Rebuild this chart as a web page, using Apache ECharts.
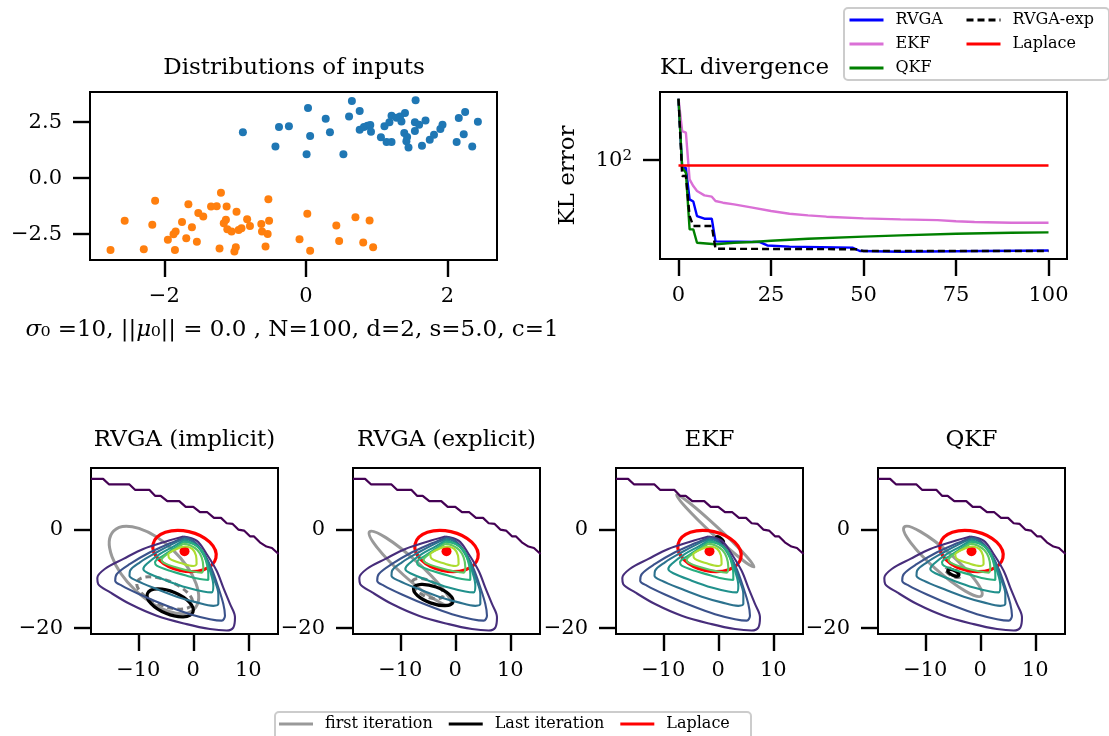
<!DOCTYPE html>
<html lang="en">
<head>
<meta charset="UTF-8">
<title>RVGA vs EKF vs QKF</title>
<script src="https://cdn.jsdelivr.net/npm/echarts@6.0.0/dist/echarts.min.js"></script>
<style>
    html, body { margin: 0; padding: 0; background: #fff; }
    #chart { width: 1109px; height: 736px; }
</style>
</head>
<body>
<div id="chart"></div>
<script>
// ---------- data ----------
// inputs, class 1 (blue) and class 2 (orange)
const class1Points = [
    [-0.89, 2.04], [-0.43, 1.41], [-0.38, 2.28], [-0.24, 2.31], [0.03, 3.13], [0.06, 1.88],
    [0.01, 1.07], [0.28, 2.65], [0.34, 2.05], [0.53, 1.06], [0.61, 2.75], [0.65, 3.44],
    [0.76, 2.99], [0.76, 2.16], [0.82, 2.28], [0.87, 2.34], [0.91, 2.37], [0.92, 2.07],
    [1.06, 1.82], [1.11, 2.31], [1.18, 2.49], [1.21, 2.78], [1.14, 1.61], [1.21, 1.61],
    [1.28, 2.69], [1.33, 2.75], [1.35, 2.53], [1.40, 2.90], [1.39, 2.01], [1.43, 1.83],
    [1.42, 1.64], [1.45, 1.37], [1.55, 3.47], [1.54, 2.49], [1.54, 2.10], [1.60, 2.38],
    [1.64, 1.44], [1.69, 2.57], [1.75, 1.71], [1.81, 1.93], [1.90, 2.19], [1.93, 2.38],
    [2.13, 1.61], [2.16, 2.68], [2.25, 2.95], [2.23, 1.96], [2.35, 1.41], [2.43, 2.51]
];
const class2Points = [
    [-2.76, -3.20], [-2.56, -1.90], [-2.29, -3.17], [-2.17, -2.08], [-2.13, -1.01], [-1.95, -2.75],
    [-1.87, -2.50], [-1.84, -2.38], [-1.85, -3.20], [-1.75, -1.96], [-1.69, -2.68], [-1.66, -1.16],
    [-1.61, -2.19], [-1.54, -2.84], [-1.52, -1.56], [-1.45, -1.71], [-1.34, -1.26], [-1.26, -1.25],
    [-1.22, -3.14], [-1.20, -0.65], [-1.16, -2.01], [-1.12, -1.26], [-1.13, -1.86], [-1.11, -2.28],
    [-1.05, -2.38], [-1.01, -3.27], [-0.99, -3.08], [-0.98, -1.50], [-0.95, -2.31], [-0.91, -2.23],
    [-0.83, -1.83], [-0.79, -2.13], [-0.63, -2.05], [-0.62, -2.38], [-0.57, -3.05], [-0.54, -2.49],
    [-0.53, -0.94], [-0.52, -1.90], [-0.09, -2.72], [0.02, -1.59], [0.06, -3.24], [0.43, -2.11],
    [0.47, -2.80], [0.70, -1.74], [0.81, -2.87], [0.90, -1.89], [0.95, -3.08]
];
const scatterXTicks = [-2, 0, 2];
const scatterYTicks = [-2.5, 0, 2.5];

// KL error per iteration, [iteration, KL]
const klRVGA = [[0, 202.6], [1, 91.5], [2, 91.5], [3, 63.6], [4, 62.1], [5, 52.5], [7, 50.9], [9, 50.9],
    [10, 39.2], [22, 38.9], [24, 37.4], [30, 36.9], [47, 36.5], [49, 35.1], [60, 34.8], [75, 35.0], [100, 35.3]];
const klEKF = [[0, 202.6], [1, 139.6], [2, 137.1], [3, 80.1], [4, 74.1], [5, 70.0], [7, 66.6], [9, 65.6],
    [10, 62.4], [12, 61.2], [15, 60.0], [20, 57.8], [25, 55.6], [30, 53.9], [35, 52.9], [40, 52.1],
    [50, 51.1], [60, 50.5], [70, 50.1], [75, 49.4], [80, 49.0], [90, 48.6], [100, 48.6]];
const klQKF = [[0, 202.6], [1, 91.5], [2, 86.4], [3, 45.0], [4, 45.0], [5, 38.6], [10, 37.9], [15, 38.6],
    [20, 38.9], [25, 39.5], [35, 40.4], [50, 41.4], [60, 42.0], [75, 42.8], [90, 43.3], [100, 43.5]];
const klRVGAexp = [[0, 202.6], [1, 83.2], [2, 83.2], [3, 52.5], [4, 46.8], [9, 46.8], [10, 36.0],
    [48, 35.8], [50, 35.1], [100, 35.1]];
const klLaplace = [[0, 94.0], [100, 94.0]];
const klXTicks = [0, 25, 50, 75, 100];
const klYTicks = [100];

// true posterior contours (same in every bottom panel)
const contourStair = [[-18.6, 10.2], [-16.4, 10.2], [-15.3, 9.07], [-11.6, 9.07], [-10.6, 7.99], [-8.0, 7.99],
    [-6.96, 6.77], [-5.93, 6.77], [-4.73, 5.68], [-2.55, 5.68], [-1.38, 4.54], [0, 4.54], [1.21, 3.45],
    [2.55, 3.45], [3.76, 2.31], [5.04, 2.31], [6.07, 1.22], [7.16, 1.08], [8.18, -0.06], [9.22, -0.26],
    [10.3, -1.42], [11.0, -1.42], [12.1, -2.64], [13.3, -3.5], [14.3, -3.8], [15.5, -5.0]];
const contour1 = [[-1.82, -1.48], [-4.84, -2.43], [-9.09, -3.98], [-12.7, -6.0], [-16.1, -8.04], [-17.45, -9.87],
    [-17.3, -11.08], [-15.1, -12.78], [-11.5, -15.14], [-6.65, -17.5], [-1.2, -19.2], [3.03, -20.2], [6.07, -20.5],
    [7.27, -19.9], [7.58, -17.8], [6.67, -15.1], [5.45, -11.8], [4.24, -8.4], [2.42, -5.0], [0.6, -2.3], [-1.82, -1.48]];
const contour2 = [[-1.5, -1.6], [-4.24, -2.84], [-7.87, -4.66], [-11.5, -7.03], [-13.9, -9.05], [-14.2, -10.4],
    [-13.0, -11.4], [-9.7, -13.2], [-4.84, -15.5], [-0.6, -17.2], [3.03, -18.2], [5.16, -18.5], [5.76, -17.5],
    [5.45, -15.1], [4.55, -11.8], [3.34, -8.04], [1.82, -4.66], [0, -2.3], [-1.5, -1.6]];
const contour3 = [[-1.6, -1.9], [-4.0, -3.1], [-6.65, -4.66], [-9.7, -6.69], [-11.5, -8.4], [-11.6, -9.4],
    [-10.3, -10.4], [-6.65, -12.1], [-3.0, -13.65], [0.6, -14.8], [3.64, -15.5], [4.55, -15.1], [4.55, -13.1],
    [3.64, -9.7], [2.73, -6.69], [1.52, -4.3], [-0.2, -2.43], [-1.6, -1.9]];
const contour4 = [[-1.7, -2.2], [-3.64, -3.5], [-6.05, -5.0], [-8.48, -7.03], [-9.09, -8.04], [-8.18, -8.9],
    [-4.84, -10.4], [-1.2, -11.8], [1.82, -12.6], [3.34, -12.78], [3.64, -11.4], [3.03, -8.4], [2.12, -5.7],
    [0.91, -3.65], [-0.6, -2.6], [-1.7, -2.2]];
const contour5 = [[-1.7, -2.5], [-3.33, -3.78], [-5.45, -5.33], [-6.96, -6.69], [-6.65, -7.36], [-4.24, -8.4],
    [-1.2, -9.4], [1.21, -10.07], [2.73, -10.27], [2.73, -9.05], [2.3, -6.35], [1.52, -4.3], [0, -2.97], [-1.7, -2.5]];
const contour6 = [[-1.8, -2.9], [-3.15, -3.9], [-4.96, -5.2], [-5.76, -6.2], [-5.15, -6.9], [-2.73, -7.84],
    [-0.3, -8.5], [1.52, -8.78], [1.82, -7.7], [1.52, -5.7], [0.73, -4.2], [-0.6, -3.24], [-1.8, -2.9]];
const contour7 = [[-3.0, -3.98], [-4.55, -5.13], [-4.24, -6.0], [-2.12, -6.9], [0, -7.43], [0.6, -7.03],
    [0.49, -5.33], [-0.2, -3.98], [-1.5, -3.5], [-3.0, -3.98]];

// Gaussian ellipses per panel: [cx, cy, semi-major, semi-minor, tilt in degrees]
const panelTitles = ['RVGA (implicit)', 'RVGA (explicit)', 'EKF', 'QKF'];
const firstEllipses = [[-7.15, -8.24, 10.2, 5.0, 44], [-8.23, -7.9, 9.9, 1.7, 42], [-0.55, -0.32, 9.6, 0.75, 43], [-6.8, -6.5, 9.4, 1.9, 41.5]];
const midEllipses = [[[-5.2, -12.9, 5.4, 2.3, 22]], [[-5.0, -12.0, 3.1, 1.45, 25]], [], [[-4.9, -8.8, 1.5, 0.65, 25]]];
const lastEllipses = [[-4.2, -14.9, 4.47, 2.05, 22.4], [-4.0, -13.3, 3.8, 1.53, 20], [0.3, -2.1, 0.8, 0.3, 40], [-4.9, -8.8, 1.1, 0.45, 25]];
const laplaceEllipse = [-1.6, -4.4, 5.85, 3.62, 12.6];
const laplaceMean = [-1.6, -4.45];
const panelXTicks = [-10, 0, 10];
const panelYTicks = [-20, 0];

// ---------- chart ----------
const SERIF = 'DejaVu Serif';
const chart = echarts.init(document.getElementById('chart'));

const contourColors = ['#472d7b', '#3b528b', '#2c728e', '#21918c', '#28ae80', '#5ec962', '#addc30'];
const contours = [contour1, contour2, contour3, contour4, contour5, contour6, contour7];

function num(v, d) {
    return (v < 0 ? '\u2212' : '') + Math.abs(v).toFixed(d);
}

// axis with ticks only at the given values, frame comes from the grid border
function axis(gridIndex, min, max, ticks, fmt, isX, extra) {
    return Object.assign({
        type: 'value',
        gridIndex: gridIndex,
        min: min,
        max: max,
        axisLine: { show: false, onZero: false },
        axisTick: { length: 17, lineStyle: { color: '#000', width: 2.4 }, customValues: ticks },
        axisLabel: {
            color: '#000', fontSize: 21, fontFamily: SERIF, margin: isX ? 26 : 28,
            customValues: ticks, formatter: fmt
        },
        splitLine: { show: false }
    }, extra || {});
}

function ellipseRenderer(color, width, dash) {
    return function (params, api) {
        const c = api.coord([api.value(0), api.value(1)]);
        const unit = api.size([1, 0])[0];
        return {
            type: 'ellipse',
            x: c[0],
            y: c[1],
            rotation: -api.value(4) * Math.PI / 180,
            shape: { cx: 0, cy: 0, rx: api.value(2) * unit, ry: api.value(3) * unit },
            style: { fill: 'none', stroke: color, lineWidth: width, lineDash: dash }
        };
    };
}

const grids = [
    { left: 90, top: 92, width: 407, height: 168 },
    { left: 660, top: 92, width: 407, height: 167 }
];
const panelLefts = [91, 353, 616, 878];
panelLefts.forEach(l => grids.push({ left: l, top: 468, width: 187, height: 166 }));
grids.forEach(g => { g.show = true; g.borderColor = '#000'; g.borderWidth = 2; g.backgroundColor = 'transparent'; });

const xAxes = [
    axis(0, -3.05, 2.7, scatterXTicks, v => num(v, 0), true),
    axis(1, -5, 105, klXTicks, v => num(v, 0), true)
];
const yAxes = [
    axis(0, -3.65, 3.84, scatterYTicks, v => num(v, 1), false),
    axis(1, 32, 219, klYTicks, () => '{b|10}{s|2}', false, {
        type: 'log',
        name: 'KL error', nameLocation: 'middle', nameGap: 80, nameRotate: 90,
        nameTextStyle: { color: '#000', fontSize: 23, fontFamily: SERIF }
    })
];
yAxes[1].axisLabel.rich = {
    b: { fontSize: 21, fontFamily: SERIF, color: '#000' },
    s: { fontSize: 15, fontFamily: SERIF, color: '#000', verticalAlign: 'top', padding: [0, 0, 8, 0] }
};
panelLefts.forEach((l, i) => {
    xAxes.push(axis(2 + i, -18.6, 15.4, panelXTicks, v => num(v, 0), true));
    yAxes.push(axis(2 + i, -21.2, 12.4, panelYTicks, v => num(v, 0), false));
});

const series = [
    { type: 'scatter', xAxisIndex: 0, yAxisIndex: 0, data: class1Points, symbolSize: 8, itemStyle: { color: '#1f77b4', opacity: 1 } },
    { type: 'scatter', xAxisIndex: 0, yAxisIndex: 0, data: class2Points, symbolSize: 8, itemStyle: { color: '#ff7f0e', opacity: 1 } }
];

function klLine(name, data, color, dashed) {
    return {
        name: name, type: 'line', xAxisIndex: 1, yAxisIndex: 1, data: data,
        symbol: 'none', color: color,
        lineStyle: { color: color, width: 2.4, type: dashed ? [7, 4] : 'solid' }
    };
}
series.push(klLine('RVGA', klRVGA, '#0000ff'));
series.push(klLine('EKF', klEKF, '#da70d6'));
series.push(klLine('QKF', klQKF, '#008000'));
series.push(klLine('RVGA-exp', klRVGAexp, '#000000', true));
series.push(klLine('Laplace', klLaplace, '#ff0000'));

panelLefts.forEach((l, i) => {
    const ax = 2 + i;
    series.push({
        type: 'line', xAxisIndex: ax, yAxisIndex: ax, data: contourStair, symbol: 'none',
        lineStyle: { color: '#440154', width: 2.2 }, silent: true
    });
    contours.forEach((c, k) => {
        series.push({
            type: 'line', xAxisIndex: ax, yAxisIndex: ax, data: c, symbol: 'none', smooth: 0.35,
            lineStyle: { color: contourColors[k], width: 2.1 }, silent: true
        });
    });
    series.push({
        name: 'first iteration', type: 'custom', xAxisIndex: ax, yAxisIndex: ax,
        data: [firstEllipses[i]], itemStyle: { color: '#999999' },
        renderItem: ellipseRenderer('#999999', 3, null)
    });
    series.push({
        type: 'custom', xAxisIndex: ax, yAxisIndex: ax,
        data: midEllipses[i], itemStyle: { color: '#808080' },
        renderItem: ellipseRenderer('#808080', 3, [6, 4])
    });
    series.push({
        name: 'Last iteration', type: 'custom', xAxisIndex: ax, yAxisIndex: ax,
        data: [lastEllipses[i]], itemStyle: { color: '#000000' },
        renderItem: ellipseRenderer('#000000', 3.2, null)
    });
    series.push({
        name: 'Laplace', type: 'custom', xAxisIndex: ax, yAxisIndex: ax,
        data: [laplaceEllipse], itemStyle: { color: '#ff0000' },
        renderItem: ellipseRenderer('#ff0000', 3.2, null)
    });
    series.push({
        type: 'scatter', xAxisIndex: ax, yAxisIndex: ax, data: [laplaceMean],
        symbolSize: 10, itemStyle: { color: '#ff0000', opacity: 1 }
    });
});

const titleStyle = { color: '#000', fontSize: 23, fontWeight: 'normal', fontFamily: SERIF };
const titles = [
    { text: 'Distributions of inputs', left: 294, top: 57, textAlign: 'center', padding: 0, textStyle: titleStyle },
    { text: 'KL divergence', left: 660, top: 57, padding: 0, textStyle: titleStyle },
    {
        text: '{i|\u03c3}\u2080 =10, ||{i|\u03bc}\u2080|| = 0.0 , N=100, d=2, s=5.0, c=1',
        left: 292, top: 319, textAlign: 'center', padding: 0,
        textStyle: Object.assign({ rich: { i: { fontStyle: 'italic', fontSize: 23, fontFamily: SERIF, color: '#000' } } }, titleStyle)
    }
];
panelTitles.forEach((t, i) => {
    titles.push({ text: t, left: panelLefts[i] + 93.5, top: 429, textAlign: 'center', padding: 0, textStyle: titleStyle });
});

const legendText = { color: '#000', fontSize: 16, fontFamily: SERIF, padding: [0, 0, 0, 7] };
const option = {
    animation: false,
    backgroundColor: '#fff',
    title: titles,
    grid: grids,
    xAxis: xAxes,
    yAxis: yAxes,
    legend: [
        { data: ['RVGA', 'EKF', 'QKF'], orient: 'vertical', left: 848, top: 12, itemWidth: 34, itemHeight: 14,
          itemGap: 8, padding: 0, textStyle: legendText, lineStyle: { width: 3 }, itemStyle: { opacity: 0 },
          selectedMode: false },
        { data: ['RVGA-exp', 'Laplace'], orient: 'vertical', left: 965, top: 12, itemWidth: 34, itemHeight: 14,
          itemGap: 8, padding: 0, textStyle: legendText, lineStyle: { width: 3 }, itemStyle: { opacity: 0 },
          selectedMode: false },
        { data: [{ name: 'first iteration', icon: 'rect' }, { name: 'Last iteration', icon: 'rect' }, { name: 'Laplace', icon: 'rect' }],
          orient: 'horizontal', left: 279, top: 716, itemWidth: 34, itemHeight: 3, itemGap: 16, padding: 0,
          textStyle: legendText, selectedMode: false }
    ],
    graphic: [
        { type: 'rect', left: 843, top: 7, shape: { width: 265, height: 72, r: 4 }, z: -1,
          style: { fill: 'rgba(255,255,255,0.8)', stroke: '#cccccc', lineWidth: 2 } },
        { type: 'rect', left: 274, top: 711, shape: { width: 476, height: 40, r: 4 }, z: -1,
          style: { fill: 'rgba(255,255,255,0.8)', stroke: '#cccccc', lineWidth: 2 } }
    ],
    series: series
};

chart.setOption(option);
</script>
</body>
</html>
